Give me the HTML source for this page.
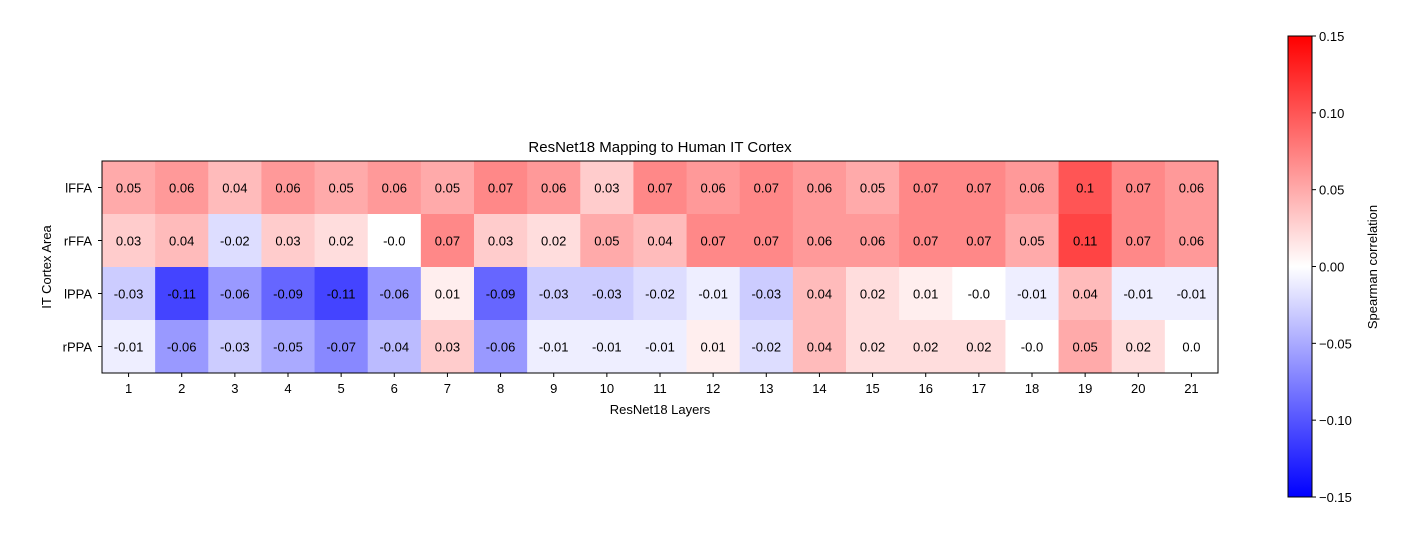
<!DOCTYPE html>
<html><head><meta charset="utf-8"><style>
body{margin:0;background:#fff;}
svg{display:block;font-family:"Liberation Sans","DejaVu Sans",sans-serif;}
</style></head><body>
<svg id="chart" width="1424" height="534" viewBox="0 0 1424 534">
<defs><linearGradient id="bwr" x1="0" y1="1" x2="0" y2="0">
<stop offset="0" stop-color="#0000ff"/><stop offset="0.5" stop-color="#ffffff"/><stop offset="1" stop-color="#ff0000"/>
</linearGradient></defs>
<text x="660" y="152" font-size="15" text-anchor="middle">ResNet18 Mapping to Human IT Cortex</text>
<g id="cells"></g>
<rect x="102" y="161" width="1116" height="212" fill="none" stroke="#000" stroke-width="1"/>
<g id="axes"></g>
<text x="660" y="414" font-size="13" text-anchor="middle">ResNet18 Layers</text>
<text transform="translate(51,267) rotate(-90)" font-size="13" text-anchor="middle">IT Cortex Area</text>
<rect x="1288" y="36" width="24" height="461" fill="url(#bwr)" stroke="#000" stroke-width="1"/>
<g id="cbticks"></g>
<text transform="translate(1377,267) rotate(-90)" font-size="13" text-anchor="middle">Spearman correlation</text>
</svg>
<script>
const layers = ["1","2","3","4","5","6","7","8","9","10","11","12","13","14","15","16","17","18","19","20","21"];
const areas = ["lFFA","rFFA","lPPA","rPPA"];
const lFFA = [0.05,0.06,0.04,0.06,0.05,0.06,0.05,0.07,0.06,0.03,0.07,0.06,0.07,0.06,0.05,0.07,0.07,0.06,0.1,0.07,0.06];
const rFFA = [0.03,0.04,-0.02,0.03,0.02,-0,0.07,0.03,0.02,0.05,0.04,0.07,0.07,0.06,0.06,0.07,0.07,0.05,0.11,0.07,0.06];
const lPPA = [-0.03,-0.11,-0.06,-0.09,-0.11,-0.06,0.01,-0.09,-0.03,-0.03,-0.02,-0.01,-0.03,0.04,0.02,0.01,-0,-0.01,0.04,-0.01,-0.01];
const rPPA = [-0.01,-0.06,-0.03,-0.05,-0.07,-0.04,0.03,-0.06,-0.01,-0.01,-0.01,0.01,-0.02,0.04,0.02,0.02,0.02,-0,0.05,0.02,0];
const cbTicks = [0.15,0.10,0.05,0.00,-0.05,-0.10,-0.15];
const rows = [lFFA,rFFA,lPPA,rPPA];
const vmin=-0.15, vmax=0.15;
const X0=102,W=1116,Y0=161,H=212;
const cw=W/layers.length, ch=H/areas.length;
const xPos=i=>X0+i*cw, yPos=j=>Y0+j*ch;
const cbY=v=>36+(vmax-v)/(vmax-vmin)*461;
function color(v){let t=(v-vmin)/(vmax-vmin);t=Math.max(0,Math.min(1,t));let r,g,b;
 if(t<0.5){r=g=2*t;b=1;}else{r=1;g=b=2*(1-t);}
 const c=x=>Math.round(x*255);return `rgb(${c(r)},${c(g)},${c(b)})`;}
function fmt(v){if(Object.is(v,-0))return "-0.0";let s=String(Math.round(v*100)/100);if(!s.includes("."))s+=".0";return s;}
const NS="http://www.w3.org/2000/svg";
function mk(tag,attrs,parent){const e=document.createElementNS(NS,tag);for(const k in attrs)e.setAttribute(k,attrs[k]);parent.appendChild(e);return e;}
const cells=document.getElementById('cells'),axes=document.getElementById('axes'),cbt=document.getElementById('cbticks');
rows.forEach((row,j)=>row.forEach((v,i)=>{
 const r=mk('rect',{x:xPos(i),y:yPos(j),width:cw+0.5,height:ch+0.5,fill:color(v)},cells);
 
 
 const t=mk('text',{x:xPos(i)+cw/2,y:yPos(j)+ch/2+5,'font-size':13,'text-anchor':'middle'},cells);
 t.textContent=fmt(v);
 
 
}));
layers.forEach((l,i)=>{const x=xPos(i)+cw/2;
 mk('line',{x1:x,x2:x,y1:373,y2:377,stroke:'#000'},axes);
 const t=mk('text',{x:x,y:393,'font-size':13,'text-anchor':'middle'},axes);t.textContent=l;
 
 });
areas.forEach((a,j)=>{const y=yPos(j)+ch/2;
 mk('line',{x1:98,x2:102,y1:y,y2:y,stroke:'#000'},axes);
 const t=mk('text',{x:92,y:y+5,'font-size':13,'text-anchor':'end'},axes);t.textContent=a;
 
 });
cbTicks.forEach(v=>{const y=cbY(v);
 mk('line',{x1:1312,x2:1316,y1:y,y2:y,stroke:'#000'},cbt);
 const t=mk('text',{x:1319,y:y+5,'font-size':13},cbt);t.textContent=v.toFixed(2).replace('-','\u2212');
 
 });
</script>
</body></html>
